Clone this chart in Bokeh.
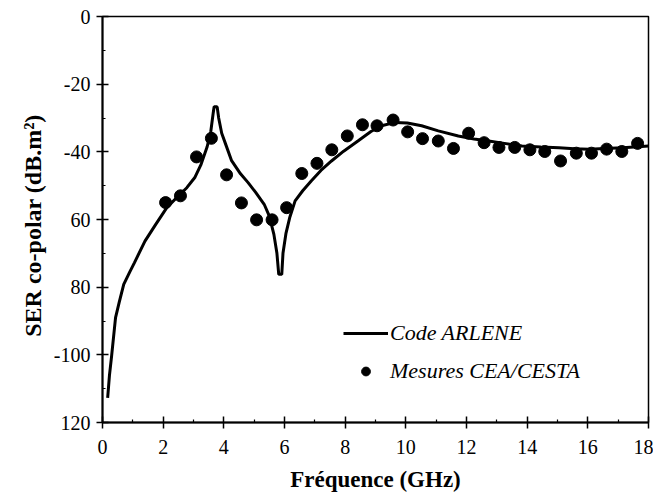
from bokeh.plotting import figure
from bokeh.models import Range1d, FixedTicker, Legend, LegendItem
from bokeh.embed import file_html
from bokeh.resources import INLINE

# Code ARLENE (computed curve)
code_freq = [0.17, 0.23, 0.3, 0.43, 0.55, 0.7, 0.9, 1.05, 1.4, 1.75, 2.12, 2.45, 2.78, 3.05, 3.25,
             3.45, 3.57, 3.65, 3.68, 3.78, 3.83, 3.93, 4.05, 4.25, 4.55, 4.8, 5.05, 5.33, 5.5, 5.65,
             5.75, 5.81, 5.91, 5.95, 6.05, 6.17, 6.35, 6.6, 6.88, 7.2, 7.55, 7.95, 8.42, 8.85, 9.2,
             9.65, 10.05, 10.52, 11.07, 11.73, 12.25, 12.73, 13.25, 13.83, 14.45, 15.05, 15.55, 16.05,
             16.55, 17.15, 17.65, 18.0]
code_ser = [-112.7, -106.0, -100.4, -89.0, -84.5, -79.2, -75.5, -72.8, -66.4, -61.5, -56.5, -53.5,
            -50.6, -47.5, -43.7, -38.5, -34.0, -28.5, -26.7, -26.7, -30.0, -34.5, -37.5, -42.5,
            -46.5, -49.1, -52.0, -55.5, -59.0, -64.4, -70.0, -76.2, -76.2, -70.0, -64.0, -59.5,
            -54.5, -51.5, -48.6, -45.5, -42.7, -39.8, -36.8, -34.0, -32.3, -31.3, -31.5, -32.3,
            -33.8, -35.3, -36.2, -36.8, -37.5, -38.3, -38.6, -38.8, -39.1, -39.2, -39.0, -38.8,
            -38.5, -38.3]

# Mesures CEA/CESTA (measured points)
mes_freq = [2.08, 2.57, 3.1, 3.59, 4.09, 4.58, 5.08, 5.59, 6.07, 6.57, 7.07, 7.56, 8.07, 8.57,
            9.05, 9.58, 10.06, 10.55, 11.07, 11.57, 12.07, 12.58, 13.07, 13.59, 14.09, 14.58,
            15.1, 15.62, 16.12, 16.62, 17.12, 17.64]
mes_ser = [-55.0, -53.0, -41.5, -36.0, -46.8, -55.1, -60.1, -60.1, -56.5, -46.4, -43.4, -39.4,
           -35.3, -32.0, -32.3, -30.6, -34.1, -36.1, -36.8, -39.0, -34.5, -37.3, -38.7, -38.7,
           -39.4, -39.9, -42.7, -40.4, -40.4, -39.2, -39.9, -37.5]

x_ticks = [0, 2, 4, 6, 8, 10, 12, 14, 16, 18]
x_minor = [1, 3, 5, 7, 9, 11, 13, 15, 17]
y_ticks = [0, -20, -40, -60, -80, -100, -120]
y_minor = [-10, -30, -50, -70, -90, -110]
y_tick_labels = ["0", "-20", "-40", "60", "80", "-100", "120"]

SERIF = "Liberation Serif"

p = figure(width=653, height=494, output_backend="svg", toolbar_location=None,
           x_range=Range1d(0, 18), y_range=Range1d(-120, 0),
           min_border_left=102, min_border_right=5, min_border_top=16, min_border_bottom=72)

p.xgrid.visible = False
p.ygrid.visible = False
p.outline_line_color = "black"
p.outline_line_width = 1.5
p.background_fill_color = "white"
p.border_fill_color = "white"

for ax in (p.xaxis[0], p.yaxis[0]):
    ax.axis_line_width = 2
    ax.axis_line_color = "black"
    ax.major_tick_in = 6
    ax.major_tick_out = 6
    ax.minor_tick_in = 3
    ax.minor_tick_out = 0
    ax.major_tick_line_width = 1.5
    ax.minor_tick_line_width = 1.2
    ax.major_label_text_font = SERIF
    ax.major_label_text_font_size = "20px"
    ax.major_label_text_color = "black"
    ax.axis_label_text_font = SERIF
    ax.axis_label_text_font_style = "bold"
    ax.axis_label_text_color = "black"

p.xaxis.ticker = FixedTicker(ticks=x_ticks, minor_ticks=x_minor)
p.yaxis.ticker = FixedTicker(ticks=y_ticks, minor_ticks=y_minor)
p.yaxis.major_label_overrides = {t: l for t, l in zip(y_ticks, y_tick_labels)}
p.xaxis.major_label_standoff = 11
p.yaxis.major_label_standoff = 6
p.xaxis.axis_label = "Fréquence (GHz)"
p.yaxis.axis_label = "SER  co-polar  (dB.m²)"
p.xaxis.axis_label_text_font_size = "23px"
p.yaxis.axis_label_text_font_size = "24px"
p.xaxis.axis_label_standoff = 10
p.yaxis.axis_label_standoff = 5

r_line = p.line(code_freq, code_ser, line_color="black", line_width=3)
r_pts = p.scatter(mes_freq, mes_ser, size=12, marker="circle",
                  fill_color="black", line_color="black")

legend = Legend(items=[LegendItem(label="Code ARLENE", renderers=[r_line]),
                       LegendItem(label="Mesures CEA/CESTA", renderers=[r_pts])],
                location=(241, 38), padding=0, margin=0, spacing=12,
                glyph_width=45, glyph_height=22, label_standoff=2,
                label_text_font=SERIF, label_text_font_style="italic",
                label_text_font_size="22px", label_text_color="black",
                border_line_alpha=0, background_fill_alpha=0)
p.add_layout(legend)

open("out.html", "w").write(file_html(p, INLINE))
